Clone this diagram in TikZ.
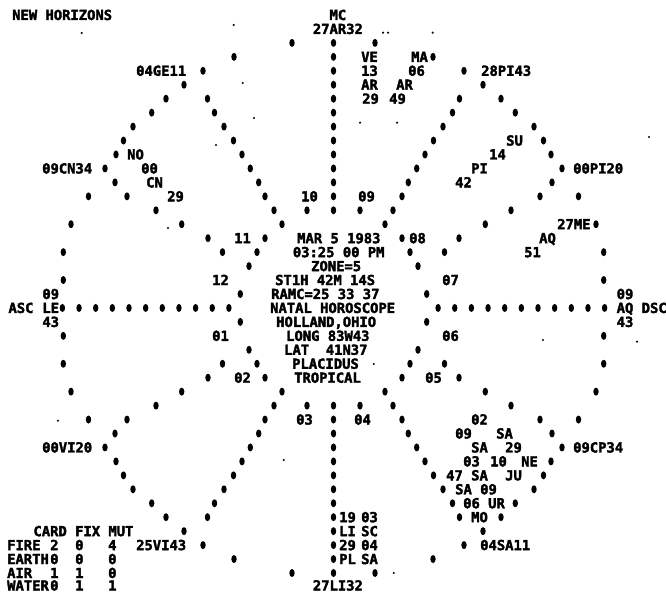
\documentclass[tikz,border=0pt]{standalone}
\usepackage{fontspec}
\newfontfamily\prtfont[FakeBold=2.5]{DejaVu Sans Mono Bold}
\begin{document}
\begin{tikzpicture}[x=1pt,y=-1pt,
  declare function={ry(\r)=15+13.95*\r;},
  prt/.style={font=\prtfont\fontsize{13.83}{14}\selectfont,anchor=west,inner sep=0pt,text height=10pt,text depth=0pt},
  blot/.style={fill=black},
  speck/.style={fill=black}
]
\useasboundingbox (0,0) rectangle (666,593);
\fill[white] (0,0) rectangle (666,593);

% one quadrant of the wheel: outer circle, 60 and 30 degree cusps, inner circle
\foreach \x/\r in {292/2,234/3,203/4,184/5,166/6,151.7/7,133/8,123.5/9,116/10,105/11,88.5/13,71/15,63.3/17,63.3/19,
  207.5/6,214.5/7,224/8,233.5/9,242/10,250.3/11,258.7/12,265/13,274/14,282/15,
  115/12,127/13,156/14,181.7/15,208/16,222.5/17,
  307/14,265/16,257/17,249/18,240.3/20}{
  \fill[blot] (\x,{ry(\r)}) ellipse [x radius=2.7pt,y radius=4pt];
  \fill[blot] ({667-\x},{ry(\r)}) ellipse [x radius=2.7pt,y radius=4pt];
  \fill[blot] (\x,{ry(42-\r)}) ellipse [x radius=2.7pt,y radius=4pt];
  \fill[blot] ({667-\x},{ry(42-\r)}) ellipse [x radius=2.7pt,y radius=4pt];
}
% meridian (MC-IC)
\foreach \r in {2,...,14}{
  \fill[blot] (333.5,{ry(\r)}) ellipse [x radius=2.7pt,y radius=4pt];
  \fill[blot] (333.5,{ry(42-\r)}) ellipse [x radius=2.7pt,y radius=4pt];
}
% horizon (ASC-DSC)
\foreach \k in {0,...,10}{
  \fill[blot] ({62.4+16.65*\k},{ry(21)}) ellipse [x radius=2.7pt,y radius=4pt];
  \fill[blot] ({667-62.4-16.65*\k},{ry(21)}) ellipse [x radius=2.7pt,y radius=4pt];
}
% stray ribbon marks
\foreach \x/\y in {81.7/33,233.7/25,383/32.7,388/32.7,432.7/32.7,242.7/83,254/118,360/122.7,397/122.7,216/145,
  649/137,168/228,543/340,637/341.7,283.7/460,393.7/573,373.7/364,58/420.7}{
  \fill[speck] (\x,\y) circle [radius=1.2pt];
}

% header and angles
\node[prt] (title) at (12,{ry(0)}) {NEW HORIZONS};
\node[prt] (mc) at (329.3,{ry(0)}) {MC};
\node[prt] (mcdeg) at (312.7,{ry(1)}) {27AR32};
\node[prt] (ic) at (312.7,585.5) {27LI32};
\node[prt] (ascdeg) at (42.2,{ry(20)}) {09};
\node[prt] (asc) at (8.3,{ry(21)}) {ASC};
\node[prt] (ascsgn) at (42.2,{ry(21)}) {LE};
\node[prt] (ascmin) at (42.2,{ry(22)}) {43};
\node[prt] (dscdeg) at (616.5,{ry(20)}) {09};
\node[prt] (dscsgn) at (616.5,{ry(21)}) {AQ};
\node[prt] (dsc) at (641.5,{ry(21)}) {DSC};
\node[prt] (dscmin) at (616.5,{ry(22)}) {43};

% intermediate cusps
\node[prt] (c11) at (136,{ry(4)}) {04GE11};
\node[prt] (c12) at (42,{ry(11)}) {09CN34};
\node[prt] (c2) at (42,{ry(31)}) {00VI20};
\node[prt] (c3) at (136,{ry(38)}) {25VI43};
\node[prt] (c5) at (480,{ry(38)}) {04SA11};
\node[prt] (c6) at (573,{ry(31)}) {09CP34};
\node[prt] (c8) at (573,{ry(11)}) {00PI20};
\node[prt] (c9) at (481,{ry(4)}) {28PI43};

% house numbers
\node[prt] (h10) at (301,{ry(13)}) {10};
\node[prt] (h9) at (358,{ry(13)}) {09};
\node[prt] (h11) at (234,{ry(16)}) {11};
\node[prt] (h8) at (409,{ry(16)}) {08};
\node[prt] (h12) at (212,{ry(19)}) {12};
\node[prt] (h7) at (442,{ry(19)}) {07};
\node[prt] (h1) at (212,{ry(23)}) {01};
\node[prt] (h6) at (442,{ry(23)}) {06};
\node[prt] (h2) at (234,{ry(26)}) {02};
\node[prt] (h5) at (425,{ry(26)}) {05};
\node[prt] (h3) at (296,{ry(29)}) {03};
\node[prt] (h4) at (354,{ry(29)}) {04};

% chart data in the hub
\node[prt] (date) at (297,{ry(16)}) {MAR 5 1983};
\node[prt] (time) at (292.7,{ry(17)}) {03:25 00 PM};
\node[prt] (zone) at (311,{ry(18)}) {ZONE=5};
\node[prt] (st) at (275,{ry(19)}) {ST1H 42M 14S};
\node[prt] (ramc) at (271,{ry(20)}) {RAMC=25 33 37};
\node[prt] (kind) at (270,{ry(21)}) {NATAL HOROSCOPE};
\node[prt] (place) at (276,{ry(22)}) {HOLLAND,OHIO};
\node[prt] (long) at (286,{ry(23)}) {LONG 83W43};
\node[prt] (lat) at (284,{ry(24)}) {LAT~~41N37};
\node[prt] (hsys) at (292,{ry(25)}) {PLACIDUS};
\node[prt] (zod) at (294,{ry(26)}) {TROPICAL};

% planets
\node[prt] (ve1) at (361,{ry(3)}) {VE};
\node[prt] (ve2) at (361,{ry(4)}) {13};
\node[prt] (ve3) at (361,{ry(5)}) {AR};
\node[prt] (ve4) at (362,{ry(6)}) {29};
\node[prt] (ma1) at (411,{ry(3)}) {MA};
\node[prt] (ma2) at (408,{ry(4)}) {06};
\node[prt] (ma3) at (396,{ry(5)}) {AR};
\node[prt] (ma4) at (389,{ry(6)}) {49};
\node[prt] (su1) at (506,{ry(9)}) {SU};
\node[prt] (su2) at (489,{ry(10)}) {14};
\node[prt] (su3) at (471,{ry(11)}) {PI};
\node[prt] (su4) at (455,{ry(12)}) {42};
\node[prt] (me1) at (557,{ry(15)}) {27ME};
\node[prt] (me3) at (539,{ry(16)}) {AQ};
\node[prt] (me4) at (524,{ry(17)}) {51};
\node[prt] (no1) at (127,{ry(10)}) {NO};
\node[prt] (no2) at (141,{ry(11)}) {00};
\node[prt] (no3) at (146,{ry(12)}) {CN};
\node[prt] (no4) at (167,{ry(13)}) {29};
\node[prt] (ne4) at (471,{ry(29)}) {02};
\node[prt] (ju4) at (455,{ry(30)}) {09};
\node[prt] (ne3) at (496,{ry(30)}) {SA};
\node[prt] (ju3) at (471,{ry(31)}) {SA};
\node[prt] (ne2) at (505,{ry(31)}) {29};
\node[prt] (ur4) at (463,{ry(32)}) {03};
\node[prt] (ju2) at (490,{ry(32)}) {10};
\node[prt] (ne1) at (521,{ry(32)}) {NE};
\node[prt] (mo4) at (446,{ry(33)}) {47};
\node[prt] (ur3) at (471,{ry(33)}) {SA};
\node[prt] (ju1) at (505,{ry(33)}) {JU};
\node[prt] (mo3) at (455,{ry(34)}) {SA};
\node[prt] (ur2) at (480,{ry(34)}) {09};
\node[prt] (mo2) at (463,{ry(35)}) {06};
\node[prt] (ur1) at (488,{ry(35)}) {UR};
\node[prt] (mo1) at (471,{ry(36)}) {MO};
\node[prt] (pl4) at (339,{ry(36)}) {19};
\node[prt] (sa4) at (361,{ry(36)}) {03};
\node[prt] (pl3) at (339,{ry(37)}) {LI};
\node[prt] (sa3) at (361,{ry(37)}) {SC};
\node[prt] (pl2) at (339,{ry(38)}) {29};
\node[prt] (sa2) at (361,{ry(38)}) {04};
\node[prt] (pl1) at (339,{ry(39)}) {PL};
\node[prt] (sa1) at (361,{ry(39)}) {SA};

% element / quality table
\node[prt] (qhead) at (33.3,{ry(37)}) {CARD FIX MUT};
\node[prt] (fire) at (7,{ry(38)}) {FIRE};
\node[prt] (earth) at (7,{ry(39)}) {EARTH};
\node[prt] (air) at (7,{ry(40)}) {AIR};
\node[prt] (water) at (7,585.5) {WATER};
\foreach \r/\y/\a/\b/\c in {38/545.1/2/0/4,39/559.05/0/0/0,40/573/1/1/0,41/585.5/0/1/1}{
  \node[prt] (card\r) at (50,\y) {\a};
  \node[prt] (fix\r) at (75,\y) {\b};
  \node[prt] (mut\r) at (108,\y) {\c};
}
\end{tikzpicture}
\end{document}
